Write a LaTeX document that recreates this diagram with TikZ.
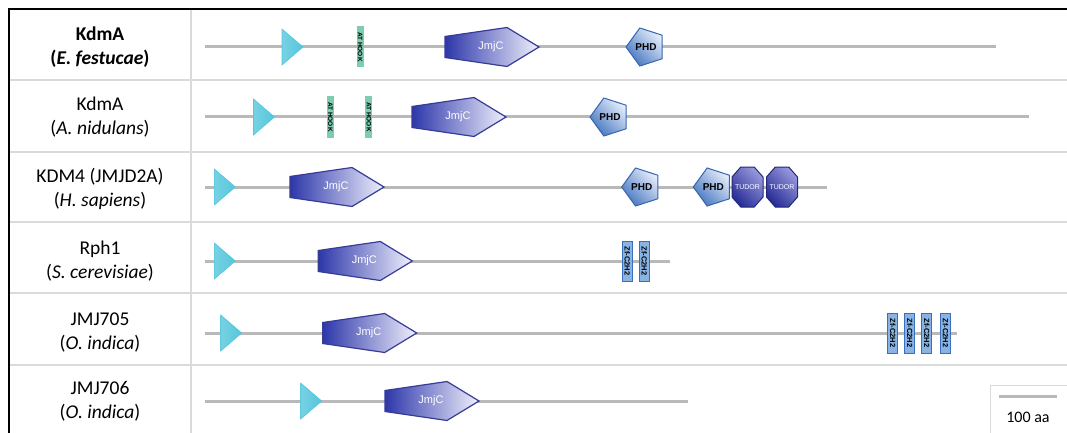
\documentclass[tikz,border=0pt]{standalone}
\usepackage{fontspec}
\setmainfont{Carlito}
\newfontfamily\domfont{Liberation Sans}
\usepackage{tikz}
\usetikzlibrary{shapes.geometric}

\definecolor{bbgray}{RGB}{185,185,185}
\definecolor{gridgray}{RGB}{218,218,218}
\definecolor{jmjcdark}{RGB}{45,55,170}
\definecolor{jmjclight}{RGB}{240,240,252}
\definecolor{jmjcedge}{RGB}{55,60,150}
\definecolor{spcyan}{RGB}{85,198,220}
\definecolor{hookgreen}{RGB}{125,205,175}
\definecolor{zfblue}{RGB}{135,180,228}
\definecolor{zfedge}{RGB}{60,110,190}
\definecolor{phddark}{RGB}{70,118,192}
\definecolor{phdlight}{RGB}{228,236,250}
\definecolor{phdedge}{RGB}{55,100,175}
\definecolor{tudordark}{RGB}{40,45,150}
\definecolor{tudorlight}{RGB}{150,152,220}
\definecolor{tudoredge}{RGB}{35,40,120}

% domain glyphs: name, left end / centre, axis y
\newcommand{\jmjcdom}[3]{%
  \shadedraw[jmjc] (#2,#3-10.5) -- (#2+62,#3-19.5) -- (#2+94,#3)
    -- (#2+62,#3+19.5) -- (#2,#3+10.5) -- cycle;
  \node[jmjclab] (#1) at (#2+46,#3) {JmjC};}
\newcommand{\tudordom}[3]{%
  \shadedraw[tudor] (#2-6.7,#3-20) -- (#2+6.7,#3-20) -- (#2+15.5,#3-10)
    -- (#2+15.5,#3+10) -- (#2+6.7,#3+20) -- (#2-6.7,#3+20)
    -- (#2-15.5,#3+10) -- (#2-15.5,#3-10) -- cycle;
  \node[tudorlab] (#1) at (#2,#3) {TUDOR};}
\newcommand{\sigpep}[2]{%
  \shadedraw[sptri] (#1,#2-18) -- (#1+21,#2) -- (#1,#2+18) -- cycle;}

\begin{document}
\begin{tikzpicture}[
  x=1pt, y=-1pt,
  backbone/.style={draw=bbgray, line width=3pt},
  tabline/.style={draw=gridgray, line width=1.5pt},
  species/.style={align=center, inner sep=0pt, font=\fontsize{19.5}{24}\selectfont},
  jmjc/.style={draw=jmjcedge, line width=1.2pt, left color=jmjcdark, right color=jmjclight},
  jmjclab/.style={font=\domfont\fontsize{11}{11}\selectfont, text=white, inner sep=0pt},
  sptri/.style={draw=spcyan, line width=0.6pt, left color=spcyan!80!white, right color=spcyan},
  athook/.style={rectangle, rotate=-90, fill=hookgreen, minimum width=41pt, minimum height=7pt,
    inner sep=0pt, font=\domfont\fontsize{6.5}{6.5}\bfseries\selectfont},
  zf/.style={rectangle, rotate=-90, draw=zfedge, fill=zfblue, line width=0.8pt, minimum width=40pt,
    minimum height=10pt, inner sep=0pt, font=\domfont\fontsize{7.5}{7.5}\bfseries\selectfont},
  phd/.style={regular polygon, regular polygon sides=5, shape border rotate=90, minimum size=40pt,
    inner sep=0pt, draw=phdedge, line width=1pt, top color=phdlight, bottom color=phddark,
    shading angle=-45, font=\domfont\fontsize{10}{10}\bfseries\selectfont},
  tudor/.style={draw=tudoredge, line width=1pt, top color=tudorlight, bottom color=tudordark,
    shading angle=-45},
  tudorlab/.style={font=\domfont\fontsize{7}{7}\selectfont, text=white, inner sep=0pt}
]
\useasboundingbox (0,0) rectangle (1067,433);

% --- Table frame ---
\foreach \ry in {80,152,222,293,365}
  \draw[tabline] (9,\ry) -- (1067,\ry);
\draw[tabline] (191,9) -- (191,433);
\draw[line width=1.3pt] (9,433) -- (9,9) -- (1067,9);

% --- KdmA (E. festucae) ---
\node[species, font=\fontsize{19.5}{24}\selectfont\bfseries] (lab1) at (100,47) {KdmA\\(\textit{E. festucae})};
\coordinate (n1) at (205,47);
\coordinate (c1) at (996,47);
\draw[backbone] (n1) -- (c1);
\sigpep{282}{47}
\node[athook] (hook1) at (360,47) {AT HOOK};
\jmjcdom{jmjc1}{445}{47}
\node[phd] (phd1) at (646,47) {PHD};

% --- KdmA (A. nidulans) ---
\node[species] (lab2) at (100,117) {KdmA\\(\textit{A. nidulans})};
\coordinate (n2) at (205,117);
\coordinate (c2) at (1029,117);
\draw[backbone] (n2) -- (c2);
\sigpep{253.5}{117}
\node[athook] (hook2a) at (330.3,117) {AT HOOK};
\node[athook] (hook2b) at (368.8,117) {AT HOOK};
\jmjcdom{jmjc2}{412}{117}
\node[phd] (phd2) at (610,117) {PHD};

% --- KDM4 (H. sapiens) ---
\node[species] (lab3) at (100,189) {KDM4 (JMJD2A)\\(\textit{H. sapiens})};
\coordinate (n3) at (205,187);
\coordinate (c3) at (826.7,187);
\draw[backbone] (n3) -- (c3);
\sigpep{214.3}{187}
\jmjcdom{jmjc3}{290}{187}
\node[phd] (phd3a) at (641.7,187) {PHD};
\node[phd] (phd3b) at (713.3,187) {PHD};
\tudordom{tudor3a}{747.5}{187}
\tudordom{tudor3b}{782}{187}

% --- Rph1 (S. cerevisiae) ---
\node[species] (lab4) at (100,261) {Rph1\\(\textit{S. cerevisiae})};
\coordinate (n4) at (205,261);
\coordinate (c4) at (670,261);
\draw[backbone] (n4) -- (c4);
\sigpep{214.3}{261}
\jmjcdom{jmjc4}{318.3}{261}
\node[zf] (zf4a) at (627.2,261) {Zf-C2H2};
\node[zf] (zf4b) at (644.3,261) {Zf-C2H2};

% --- JMJ705 (O. indica) ---
\node[species] (lab5) at (100,333) {JMJ705\\(\textit{O. indica})};
\coordinate (n5) at (205,333);
\coordinate (c5) at (956.7,333);
\draw[backbone] (n5) -- (c5);
\sigpep{220.7}{333}
\jmjcdom{jmjc5}{322.7}{333}
\foreach \zx [count=\k] in {892.8,909.7,926.7,945.5}
  \node[zf] (zf5-\k) at (\zx,333) {Zf-C2H2};

% --- JMJ706 (O. indica) ---
\node[species] (lab6) at (100,401) {JMJ706\\(\textit{O. indica})};
\coordinate (n6) at (205,401);
\coordinate (c6) at (688,401);
\draw[backbone] (n6) -- (c6);
\sigpep{300.7}{401}
\jmjcdom{jmjc6}{385}{401}

% --- Scale bar ---
\draw[draw=gridgray, line width=1pt] (990,385) rectangle (1072,440);
\coordinate (sb0) at (999,396);
\coordinate (sb1) at (1057,396);
\draw[backbone] (sb0) -- (sb1);
\node[font=\fontsize{16}{16}\selectfont, inner sep=0pt] (scale) at (1028,417) {100 aa};

\end{tikzpicture}
\end{document}
